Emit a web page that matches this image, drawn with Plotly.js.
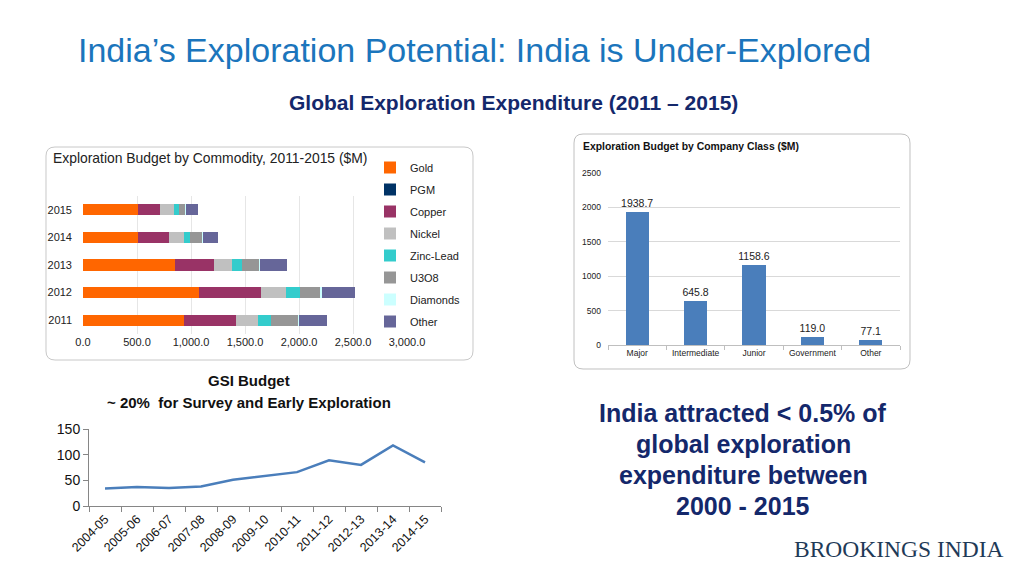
<!DOCTYPE html>
<html>
<head>
<meta charset="utf-8">
<script src="https://cdn.plot.ly/plotly-3.0.1.min.js"></script>
<style>html,body{margin:0;padding:0;background:#fff;}#chart{width:1024px;height:576px;}</style>
</head>
<body>
<div id="chart"></div>
<script>
// ---- Data: Exploration budget by commodity ($M) ----
const years = ['2011', '2012', '2013', '2014', '2015'];
const commodityNames = ['Gold', 'PGM', 'Copper', 'Nickel', 'Zinc-Lead', 'U3O8', 'Diamonds', 'Other'];
const gold      = [932, 1074, 855, 509, 509];
const pgm       = [0, 0, 0, 0, 0];
const copper    = [485, 571, 355, 284, 201];
const nickel    = [206, 232, 167, 142, 130];
const zincLead  = [115, 132, 95, 56, 46];
const u3o8      = [253, 189, 155, 111, 55];
const diamonds  = [9, 12, 9, 6, 9];
const other     = [262, 305, 256, 145, 118];
const commodityColors = ['#FF6600', '#003366', '#993366', '#C0C0C0', '#33CCCC', '#969696', '#CCFFFF', '#666699'];

// ---- Data: Exploration budget by company class ($M) ----
const companyClasses = ['Major', 'Intermediate', 'Junior', 'Government', 'Other'];
const companyBudget  = [1938.7, 645.8, 1158.6, 119.0, 77.1];

// ---- Data: GSI budget ----
const gsiYears  = ['2004-05', '2005-06', '2006-07', '2007-08', '2008-09', '2009-10', '2010-11', '2011-12', '2012-13', '2013-14', '2014-15'];
const gsiBudget = [34, 37, 35, 38, 51, 58, 66, 89, 80, 118, 85];

const W = 1024, H = 576;
const px = v => v / W;
const py = v => 1 - v / H;

const commoditySeries = [gold, pgm, copper, nickel, zincLead, u3o8, diamonds, other];
const traces = commoditySeries.map((vals, i) => ({
  type: 'bar', orientation: 'h',
  name: commodityNames[i], x: vals, y: years,
  marker: {color: commodityColors[i], line: {width: 0}},
  xaxis: 'x', yaxis: 'y', legendgroup: 'g' + i,
  hoverinfo: 'x+name'
}));

traces.push({
  type: 'bar', x: companyClasses, y: companyBudget,
  xaxis: 'x2', yaxis: 'y2', showlegend: false,
  marker: {color: '#4A7EBB'},
  text: companyBudget.map(v => v.toFixed(1)),
  textposition: 'outside', cliponaxis: false, constraintext: 'none',
  textfont: {family: 'Liberation Sans, Arial, sans-serif', size: 10.5, color: '#222'}
});

traces.push({
  type: 'scatter', mode: 'lines', x: gsiYears, y: gsiBudget,
  xaxis: 'x3', yaxis: 'y3', showlegend: false,
  line: {color: '#4A7EBB', width: 2.5}
});

function roundRect(x0, y0, x1, y1, r) {
  const X = v => px(v).toFixed(5), Y = v => py(v).toFixed(5);
  return 'M' + X(x0 + r) + ',' + Y(y0) + ' L' + X(x1 - r) + ',' + Y(y0) +
    ' Q' + X(x1) + ',' + Y(y0) + ' ' + X(x1) + ',' + Y(y0 + r) +
    ' L' + X(x1) + ',' + Y(y1 - r) +
    ' Q' + X(x1) + ',' + Y(y1) + ' ' + X(x1 - r) + ',' + Y(y1) +
    ' L' + X(x0 + r) + ',' + Y(y1) +
    ' Q' + X(x0) + ',' + Y(y1) + ' ' + X(x0) + ',' + Y(y1 - r) +
    ' L' + X(x0) + ',' + Y(y0 + r) +
    ' Q' + X(x0) + ',' + Y(y0) + ' ' + X(x0 + r) + ',' + Y(y0) + ' Z';
}

const sans = 'Liberation Sans, Arial, sans-serif';
const navy = '#14286B';

const layout = {
  width: W, height: H,
  margin: {l: 0, r: 0, t: 0, b: 0},
  paper_bgcolor: '#fff', plot_bgcolor: 'rgba(0,0,0,0)',
  font: {family: sans, color: '#222'},
  barmode: 'stack', bargap: 0.6,
  showlegend: true,
  legend: {
    x: px(370), y: py(153), xanchor: 'left', yanchor: 'top',
    bgcolor: 'rgba(0,0,0,0)', tracegroupgap: 3, traceorder: 'grouped',
    font: {family: sans, size: 11, color: '#222'}
  },
  title: {
    text: 'India’s Exploration Potential: India is Under-Explored',
    x: px(78), xanchor: 'left', xref: 'paper',
    y: py(50), yanchor: 'middle', yref: 'container',
    font: {family: sans, size: 34, color: '#1B75BC'}
  },
  xaxis: {
    domain: [px(83), px(407)], anchor: 'y', range: [0, 3000], dtick: 500,
    tickformat: ',.1f', showgrid: true, gridcolor: '#E6E6E6', zeroline: false,
    showline: false, ticks: '', tickfont: {size: 11, color: '#222'}, fixedrange: true
  },
  yaxis: {
    domain: [py(334), py(196)], anchor: 'x', type: 'category',
    categoryorder: 'array', categoryarray: years,
    showgrid: false, zeroline: false, showline: false, ticks: '', ticklabelstandoff: 10,
    tickfont: {size: 11, color: '#222'}, fixedrange: true
  },
  xaxis2: {
    domain: [px(608), px(900)], anchor: 'y2', type: 'category',
    showline: true, linecolor: '#BFBFBF', ticks: 'outside', tickson: 'boundaries',
    ticklen: 4, tickcolor: '#BFBFBF', tickfont: {size: 8.5, color: '#222'}, fixedrange: true
  },
  yaxis2: {
    domain: [py(345), py(173)], anchor: 'x2', range: [0, 2500], dtick: 500,
    showgrid: true, gridcolor: '#D9D9D9', zeroline: false, showline: false,
    ticks: '', ticklabelstandoff: 6, tickfont: {size: 8.5, color: '#222'}, fixedrange: true
  },
  xaxis3: {
    domain: [px(89), px(441)], anchor: 'y3', type: 'category', range: [-0.5, 10.5],
    showline: true, linecolor: '#868686', ticks: 'outside', tickson: 'boundaries',
    ticklen: 5, tickcolor: '#868686', tickangle: -45, showgrid: false,
    tickfont: {size: 12.5, color: '#111'}, fixedrange: true
  },
  yaxis3: {
    domain: [py(506), py(429)], anchor: 'x3', range: [0, 150], dtick: 50,
    showline: true, linecolor: '#868686', ticks: 'outside', ticklen: 5, tickcolor: '#868686',
    showgrid: false, zeroline: false, tickfont: {size: 14, color: '#111'}, fixedrange: true
  },
  shapes: [
    {type: 'path', xref: 'paper', yref: 'paper', path: roundRect(46, 147, 473, 360, 9),
     line: {color: '#C8C8C8', width: 1}, layer: 'below'},
    {type: 'path', xref: 'paper', yref: 'paper', path: roundRect(574, 134, 910, 369, 9),
     line: {color: '#C0C0C0', width: 1}, layer: 'below'}
  ],
  annotations: [
    {text: '<b>Global Exploration Expenditure (2011 – 2015)</b>', xref: 'paper', yref: 'paper',
     x: px(513), y: py(103), xanchor: 'center', yanchor: 'middle', showarrow: false,
     font: {family: sans, size: 21, color: navy}},
    {text: 'Exploration Budget by Commodity, 2011-2015 ($M)', xref: 'paper', yref: 'paper',
     x: px(51), y: py(158), xanchor: 'left', yanchor: 'middle', showarrow: false,
     font: {family: sans, size: 13.9, color: '#222'}},
    {text: '<b>Exploration Budget by Company Class ($M)</b>', xref: 'paper', yref: 'paper',
     x: px(581), y: py(147), xanchor: 'left', yanchor: 'middle', showarrow: false,
     font: {family: sans, size: 10.4, color: '#111'}},
    {text: '<b>GSI Budget</b>', xref: 'paper', yref: 'paper',
     x: px(249), y: py(380), xanchor: 'center', yanchor: 'middle', showarrow: false,
     font: {family: sans, size: 15, color: '#111'}},
    {text: '<b>~ 20%  for Survey and Early Exploration</b>', xref: 'paper', yref: 'paper',
     x: px(249), y: py(402), xanchor: 'center', yanchor: 'middle', showarrow: false,
     font: {family: sans, size: 15, color: '#111'}},
    {text: '<b>India attracted &lt; 0.5% of</b>', xref: 'paper', yref: 'paper',
     x: px(743), y: py(413), xanchor: 'center', yanchor: 'middle', showarrow: false,
     font: {family: sans, size: 25, color: navy}},
    {text: '<b>global exploration</b>', xref: 'paper', yref: 'paper',
     x: px(743), y: py(444), xanchor: 'center', yanchor: 'middle', showarrow: false,
     font: {family: sans, size: 25, color: navy}},
    {text: '<b>expenditure between</b>', xref: 'paper', yref: 'paper',
     x: px(743), y: py(475), xanchor: 'center', yanchor: 'middle', showarrow: false,
     font: {family: sans, size: 25, color: navy}},
    {text: '<b>2000 - 2015</b>', xref: 'paper', yref: 'paper',
     x: px(743), y: py(506), xanchor: 'center', yanchor: 'middle', showarrow: false,
     font: {family: sans, size: 25, color: navy}},
    {text: 'BROOKINGS INDIA', xref: 'paper', yref: 'paper',
     x: px(899), y: py(549), xanchor: 'center', yanchor: 'middle', showarrow: false,
     font: {family: 'Liberation Serif, DejaVu Serif, serif', size: 23.5, color: '#1F3A57'}}
  ]
};

Plotly.newPlot('chart', traces, layout, {displayModeBar: false, staticPlot: true});
</script>
</body>
</html>
